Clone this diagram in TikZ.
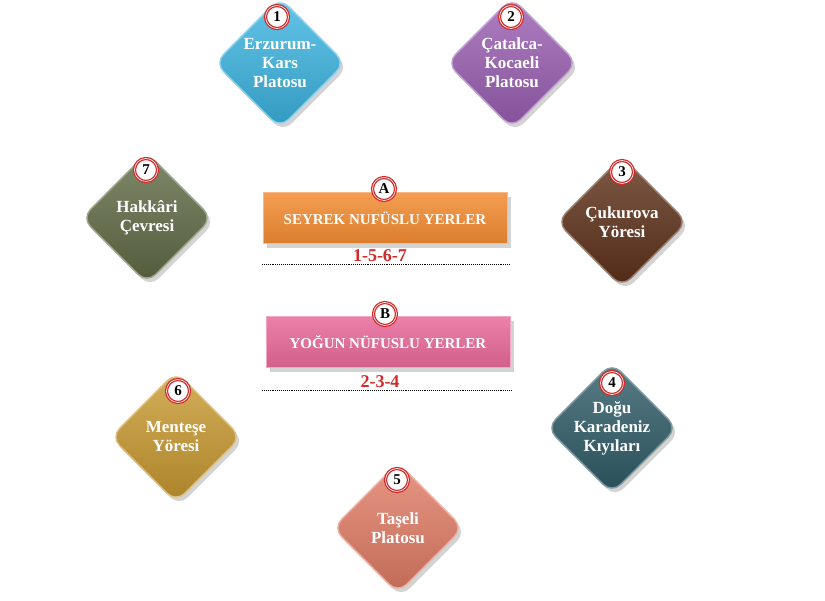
\documentclass[tikz,border=0pt]{standalone}
\usepackage{fontspec}
\setmainfont{Liberation Serif}
\usetikzlibrary{shadows}

\definecolor{erzcol}{HTML}{3DB5E2}
\definecolor{catcol}{HTML}{9B5FB3}
\definecolor{cukcol}{HTML}{5E3119}
\definecolor{dogcol}{HTML}{2F5C68}
\definecolor{tascol}{HTML}{E27D66}
\definecolor{mencol}{HTML}{C99A30}
\definecolor{hakcol}{HTML}{606C46}
\definecolor{seycol}{HTML}{F28C33}
\definecolor{yogcol}{HTML}{E86A9A}
\definecolor{ringcol}{HTML}{D42A2A}

\tikzset{
  regionbox/.style={rectangle, rotate=45, minimum size=92pt, rounded corners=12pt,
    top color=#1!80!white, bottom color=#1!85!black, draw=#1!60!white, line width=1.4pt,
    drop shadow={shadow xshift=3pt, shadow yshift=-4pt, opacity=0.35}},
  regiontext/.style={text=white, font=\bfseries\fontsize{17}{19}\selectfont, align=center},
  numring/.style={circle, fill=white, draw=ringcol, double=white, double distance=0.6pt,
    line width=1.3pt, minimum size=23pt, inner sep=0pt, font=\bfseries\fontsize{15}{15}\selectfont},
  groupbar/.style={rectangle, minimum width=244pt, minimum height=51pt,
    top color=#1!85!white, bottom color=#1!90!black, draw=#1!60!white, line width=1pt,
    text=white, font=\bfseries\fontsize{15}{17}\selectfont,
    drop shadow={shadow xshift=4pt, shadow yshift=-5pt, opacity=0.35}},
  answer/.style={text=ringcol, font=\bfseries\fontsize{18}{18}\selectfont},
  dotline/.style={densely dotted, line width=0.9pt}
}

\begin{document}
\begin{tikzpicture}[x=1pt,y=-1pt]
    \useasboundingbox (0,0) rectangle (825,601);
    % Regions
    \node[regionbox=erzcol] (erz) at (280,63) {};
    \node[regiontext] at (erz) {Erzurum-\\Kars\\Platosu};
    \node[numring] (n1) at (277,17) {1};
    \node[regionbox=catcol] (cat) at (512,63) {};
    \node[regiontext] at (cat) {Çatalca-\\Kocaeli\\Platosu};
    \node[numring] (n2) at (511,17) {2};
    \node[regionbox=cukcol] (cuk) at (622,222) {};
    \node[regiontext] at (cuk) {Çukurova\\Yöresi};
    \node[numring] (n3) at (622,172) {3};
    \node[regionbox=dogcol] (dog) at (612,428) {};
    \node[regiontext] at (dog) {Doğu\\Karadeniz\\Kıyıları};
    \node[numring] (n4) at (612,383) {4};
    \node[regionbox=tascol] (tas) at (398,528) {};
    \node[regiontext] at (tas) {Taşeli\\Platosu};
    \node[numring] (n5) at (397,480) {5};
    \node[regionbox=mencol] (men) at (176,437) {};
    \node[regiontext] at (men) {Menteşe\\Yöresi};
    \node[numring] (n6) at (178,391) {6};
    \node[regionbox=hakcol] (hak) at (147,218) {};
    \node[regiontext] at (hak) {Hakkâri\\Çevresi};
    \node[numring] (n7) at (146,170) {7};
    % Groups
    \node[groupbar=seycol] (sey) at (385,218) {SEYREK NUFÜSLU YERLER};
    \node[numring] (na) at (384,189) {A};
    \node[answer] (ansA) at (380,256) {1-5-6-7};
    \coordinate (dA1) at (262,264);
    \coordinate (dA2) at (510,264);
    \draw[dotline] (dA1) -- (dA2);
    \node[groupbar=yogcol] (yog) at (388,342) {YOĞUN NÜFUSLU YERLER};
    \node[numring] (nb) at (385,314) {B};
    \node[answer] (ansB) at (380,382) {2-3-4};
    \coordinate (dB1) at (262,390);
    \coordinate (dB2) at (512,390);
    \draw[dotline] (dB1) -- (dB2);
\end{tikzpicture}
\end{document}
